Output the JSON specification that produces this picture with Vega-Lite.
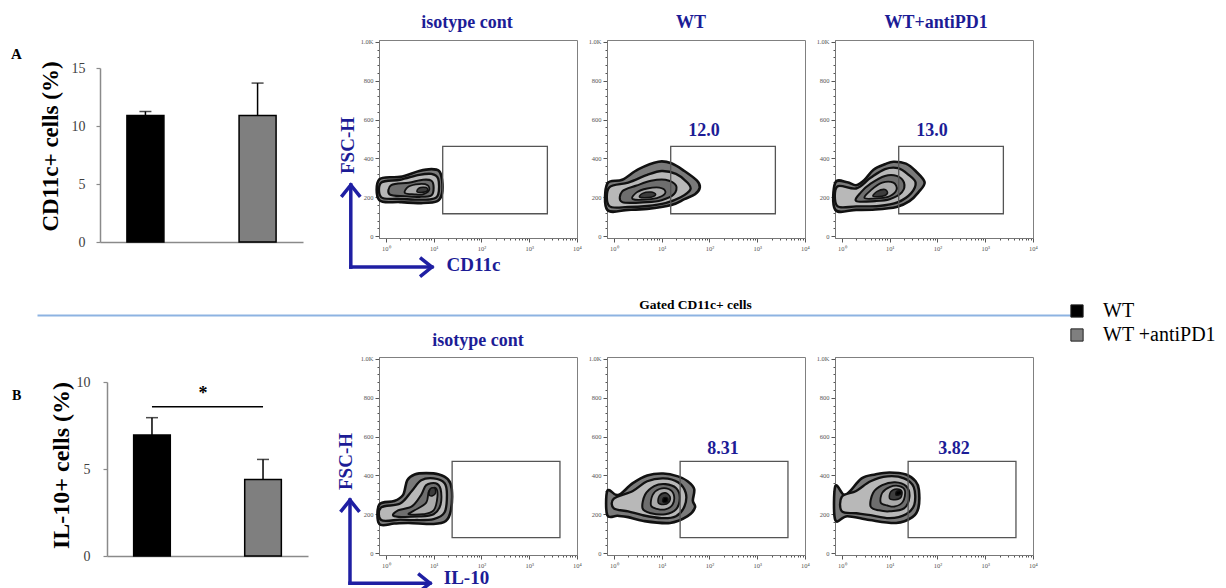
{
"$schema":"https://vega.github.io/schema/vega-lite/v6.json",
"background":"white",
"padding":{"left":11,"top":13,"right":5,"bottom":0},
"config":{"font":"Liberation Serif","view":{"stroke":null},"axis":{"grid":false},"title":{"offset":0}},
"datasets":{
"bars":[{"pan":"A","g":"WT","v":10.9,"hi":11.25},{"pan":"A","g":"WT +antiPD1","v":10.9,"hi":13.7},{"pan":"B","g":"WT","v":6.95,"hi":7.95},{"pan":"B","g":"WT +antiPD1","v":4.4,"hi":5.55}],
"sig":[{"a":"WT","b":"WT +antiPD1","y":8.58,"ty":9.05,"t":"*"}],
"gate":[{"p":"A","x":15.5,"x2":2400,"y":115,"y2":462},{"p":"B","x":24.4,"x2":4400,"y":80,"y2":472}],
"lbl":[{"p":"A2","x":77,"y":540,"t":"12.0"},{"p":"A3","x":77,"y":540,"t":"13.0"},{"p":"B2","x":192,"y":535,"t":"8.31"},{"p":"B3","x":222,"y":535,"t":"3.82"}],
"arr":[{"p":"A1","x":0.185,"y":-160,"x2":0.185,"y2":263,"tip":"up"},{"p":"A1","x":0.185,"y":-160,"x2":9.2,"y2":-160,"tip":"right"},{"p":"B1","x":0.178,"y":-155,"x2":0.178,"y2":273,"tip":"up"},{"p":"B1","x":0.178,"y":-155,"x2":8.4,"y2":-155,"tip":"right"}],
"cont":[
{"p":"A1","l":0,"x":0.73,"y":185},{"p":"A1","l":0,"x":0.73,"y":292},{"p":"A1","l":0,"x":2,"y":305},{"p":"A1","l":0,"x":5,"y":335},{"p":"A1","l":0,"x":9,"y":345},{"p":"A1","l":0,"x":13,"y":335},{"p":"A1","l":0,"x":15,"y":290},{"p":"A1","l":0,"x":15,"y":220},{"p":"A1","l":0,"x":12,"y":180},{"p":"A1","l":0,"x":6,"y":170},{"p":"A1","l":0,"x":2,"y":175},
{"p":"A1","l":1,"x":0.8,"y":200},{"p":"A1","l":1,"x":0.8,"y":275},{"p":"A1","l":1,"x":2,"y":290},{"p":"A1","l":1,"x":5,"y":315},{"p":"A1","l":1,"x":9,"y":320},{"p":"A1","l":1,"x":12.5,"y":295},{"p":"A1","l":1,"x":12.5,"y":215},{"p":"A1","l":1,"x":9,"y":190},{"p":"A1","l":1,"x":4,"y":188},{"p":"A1","l":1,"x":1.8,"y":192},
{"p":"A1","l":2,"x":1.2,"y":215},{"p":"A1","l":2,"x":1.3,"y":262},{"p":"A1","l":2,"x":3,"y":275},{"p":"A1","l":2,"x":6,"y":290},{"p":"A1","l":2,"x":9,"y":285},{"p":"A1","l":2,"x":10,"y":250},{"p":"A1","l":2,"x":9,"y":210},{"p":"A1","l":2,"x":5,"y":202},{"p":"A1","l":2,"x":2.5,"y":205},
{"p":"A1","l":3,"x":2.5,"y":222},{"p":"A1","l":3,"x":3,"y":255},{"p":"A1","l":3,"x":5,"y":268},{"p":"A1","l":3,"x":7.5,"y":262},{"p":"A1","l":3,"x":8,"y":235},{"p":"A1","l":3,"x":6,"y":215},{"p":"A1","l":3,"x":4,"y":215},
{"p":"A1","l":4,"x":4.5,"y":228},{"p":"A1","l":4,"x":5,"y":248},{"p":"A1","l":4,"x":7,"y":250},{"p":"A1","l":4,"x":7.5,"y":235},{"p":"A1","l":4,"x":6,"y":225},
{"p":"A2","l":0,"x":0.73,"y":135},{"p":"A2","l":0,"x":0.73,"y":270},{"p":"A2","l":0,"x":1.5,"y":290},{"p":"A2","l":0,"x":3.3,"y":345},{"p":"A2","l":0,"x":8.6,"y":383},{"p":"A2","l":0,"x":16,"y":375},{"p":"A2","l":0,"x":30,"y":335},{"p":"A2","l":0,"x":55,"y":285},{"p":"A2","l":0,"x":63,"y":250},{"p":"A2","l":0,"x":50,"y":215},{"p":"A2","l":0,"x":30,"y":190},{"p":"A2","l":0,"x":16,"y":160},{"p":"A2","l":0,"x":5,"y":140},{"p":"A2","l":0,"x":2,"y":135},
{"p":"A2","l":1,"x":0.8,"y":155},{"p":"A2","l":1,"x":0.8,"y":250},{"p":"A2","l":1,"x":2,"y":275},{"p":"A2","l":1,"x":5,"y":315},{"p":"A2","l":1,"x":10,"y":335},{"p":"A2","l":1,"x":20,"y":320},{"p":"A2","l":1,"x":35,"y":275},{"p":"A2","l":1,"x":40,"y":240},{"p":"A2","l":1,"x":25,"y":200},{"p":"A2","l":1,"x":12,"y":170},{"p":"A2","l":1,"x":5,"y":155},{"p":"A2","l":1,"x":2,"y":150},
{"p":"A2","l":2,"x":1.5,"y":175},{"p":"A2","l":2,"x":1.5,"y":230},{"p":"A2","l":2,"x":3,"y":260},{"p":"A2","l":2,"x":6,"y":285},{"p":"A2","l":2,"x":12,"y":290},{"p":"A2","l":2,"x":20,"y":260},{"p":"A2","l":2,"x":18,"y":215},{"p":"A2","l":2,"x":10,"y":185},{"p":"A2","l":2,"x":5,"y":175},
{"p":"A2","l":3,"x":2.5,"y":190},{"p":"A2","l":3,"x":3,"y":225},{"p":"A2","l":3,"x":5,"y":245},{"p":"A2","l":3,"x":9,"y":250},{"p":"A2","l":3,"x":12,"y":230},{"p":"A2","l":3,"x":10,"y":205},{"p":"A2","l":3,"x":6,"y":190},
{"p":"A2","l":4,"x":3.5,"y":200},{"p":"A2","l":4,"x":4,"y":220},{"p":"A2","l":4,"x":6,"y":227},{"p":"A2","l":4,"x":7.5,"y":215},{"p":"A2","l":4,"x":6,"y":200},
{"p":"A3","l":0,"x":0.73,"y":135},{"p":"A3","l":0,"x":0.73,"y":275},{"p":"A3","l":0,"x":1.3,"y":277},{"p":"A3","l":0,"x":2,"y":262},{"p":"A3","l":0,"x":3,"y":290},{"p":"A3","l":0,"x":4.6,"y":342},{"p":"A3","l":0,"x":8,"y":370},{"p":"A3","l":0,"x":12,"y":383},{"p":"A3","l":0,"x":22,"y":373},{"p":"A3","l":0,"x":35,"y":335},{"p":"A3","l":0,"x":54,"y":277},{"p":"A3","l":0,"x":40,"y":225},{"p":"A3","l":0,"x":26,"y":180},{"p":"A3","l":0,"x":14,"y":150},{"p":"A3","l":0,"x":5,"y":137},{"p":"A3","l":0,"x":2,"y":135},
{"p":"A3","l":1,"x":0.8,"y":155},{"p":"A3","l":1,"x":0.8,"y":255},{"p":"A3","l":1,"x":2,"y":245},{"p":"A3","l":1,"x":4,"y":300},{"p":"A3","l":1,"x":8,"y":345},{"p":"A3","l":1,"x":15,"y":350},{"p":"A3","l":1,"x":25,"y":315},{"p":"A3","l":1,"x":35,"y":275},{"p":"A3","l":1,"x":28,"y":220},{"p":"A3","l":1,"x":15,"y":175},{"p":"A3","l":1,"x":6,"y":155},{"p":"A3","l":1,"x":2,"y":153},
{"p":"A3","l":2,"x":2,"y":180},{"p":"A3","l":2,"x":2.5,"y":225},{"p":"A3","l":2,"x":4,"y":270},{"p":"A3","l":2,"x":8,"y":310},{"p":"A3","l":2,"x":14,"y":310},{"p":"A3","l":2,"x":20,"y":275},{"p":"A3","l":2,"x":18,"y":225},{"p":"A3","l":2,"x":10,"y":190},{"p":"A3","l":2,"x":5,"y":180},
{"p":"A3","l":3,"x":3,"y":195},{"p":"A3","l":3,"x":4,"y":235},{"p":"A3","l":3,"x":7,"y":275},{"p":"A3","l":3,"x":12,"y":275},{"p":"A3","l":3,"x":14,"y":240},{"p":"A3","l":3,"x":10,"y":205},{"p":"A3","l":3,"x":6,"y":195},
{"p":"A3","l":4,"x":4.5,"y":205},{"p":"A3","l":4,"x":5.5,"y":230},{"p":"A3","l":4,"x":8,"y":240},{"p":"A3","l":4,"x":9,"y":220},{"p":"A3","l":4,"x":7,"y":205},
{"p":"B1","l":0,"x":0.73,"y":150},{"p":"B1","l":0,"x":0.73,"y":250},{"p":"B1","l":0,"x":1.5,"y":268},{"p":"B1","l":0,"x":2.3,"y":300},{"p":"B1","l":0,"x":2.8,"y":375},{"p":"B1","l":0,"x":4,"y":405},{"p":"B1","l":0,"x":7,"y":412},{"p":"B1","l":0,"x":13,"y":405},{"p":"B1","l":0,"x":20,"y":380},{"p":"B1","l":0,"x":24,"y":330},{"p":"B1","l":0,"x":23,"y":220},{"p":"B1","l":0,"x":18,"y":165},{"p":"B1","l":0,"x":10,"y":150},{"p":"B1","l":0,"x":3,"y":155},{"p":"B1","l":0,"x":1.5,"y":152},
{"p":"B1","l":1,"x":0.8,"y":170},{"p":"B1","l":1,"x":0.8,"y":235},{"p":"B1","l":1,"x":2,"y":255},{"p":"B1","l":1,"x":3.5,"y":320},{"p":"B1","l":1,"x":5.5,"y":375},{"p":"B1","l":1,"x":10,"y":385},{"p":"B1","l":1,"x":17,"y":360},{"p":"B1","l":1,"x":19,"y":300},{"p":"B1","l":1,"x":17,"y":210},{"p":"B1","l":1,"x":10,"y":175},{"p":"B1","l":1,"x":4,"y":170},{"p":"B1","l":1,"x":2,"y":172},
{"p":"B1","l":2,"x":1.5,"y":190},{"p":"B1","l":2,"x":1.8,"y":220},{"p":"B1","l":2,"x":3.5,"y":240},{"p":"B1","l":2,"x":5.5,"y":300},{"p":"B1","l":2,"x":7,"y":350},{"p":"B1","l":2,"x":11,"y":360},{"p":"B1","l":2,"x":14,"y":330},{"p":"B1","l":2,"x":14,"y":250},{"p":"B1","l":2,"x":10,"y":200},{"p":"B1","l":2,"x":5,"y":188},
{"p":"B1","l":3,"x":3,"y":200},{"p":"B1","l":3,"x":4,"y":220},{"p":"B1","l":3,"x":7,"y":260},{"p":"B1","l":3,"x":8,"y":320},{"p":"B1","l":3,"x":11,"y":335},{"p":"B1","l":3,"x":12,"y":290},{"p":"B1","l":3,"x":10,"y":220},{"p":"B1","l":3,"x":6,"y":200},
{"p":"B1","l":4,"x":8,"y":300},{"p":"B1","l":4,"x":8.5,"y":330},{"p":"B1","l":4,"x":10.5,"y":335},{"p":"B1","l":4,"x":11,"y":310},{"p":"B1","l":4,"x":9.5,"y":295},
{"p":"B2","l":0,"x":0.73,"y":195},{"p":"B2","l":0,"x":0.73,"y":320},{"p":"B2","l":0,"x":1.1,"y":300},{"p":"B2","l":0,"x":1.4,"y":305},{"p":"B2","l":0,"x":2.5,"y":360},{"p":"B2","l":0,"x":5,"y":400},{"p":"B2","l":0,"x":10.8,"y":410},{"p":"B2","l":0,"x":22,"y":395},{"p":"B2","l":0,"x":35,"y":370},{"p":"B2","l":0,"x":48,"y":330},{"p":"B2","l":0,"x":45,"y":270},{"p":"B2","l":0,"x":50,"y":235},{"p":"B2","l":0,"x":35,"y":190},{"p":"B2","l":0,"x":15,"y":155},{"p":"B2","l":0,"x":4.2,"y":165},{"p":"B2","l":0,"x":2,"y":185},{"p":"B2","l":0,"x":1.2,"y":192},
{"p":"B2","l":1,"x":1,"y":230},{"p":"B2","l":1,"x":1,"y":280},{"p":"B2","l":1,"x":2.5,"y":320},{"p":"B2","l":1,"x":5,"y":370},{"p":"B2","l":1,"x":11,"y":385},{"p":"B2","l":1,"x":22,"y":365},{"p":"B2","l":1,"x":32,"y":310},{"p":"B2","l":1,"x":30,"y":240},{"p":"B2","l":1,"x":20,"y":190},{"p":"B2","l":1,"x":10,"y":180},{"p":"B2","l":1,"x":4,"y":195},{"p":"B2","l":1,"x":2,"y":215},
{"p":"B2","l":2,"x":4,"y":230},{"p":"B2","l":2,"x":4.5,"y":300},{"p":"B2","l":2,"x":7,"y":345},{"p":"B2","l":2,"x":12,"y":355},{"p":"B2","l":2,"x":20,"y":335},{"p":"B2","l":2,"x":24,"y":285},{"p":"B2","l":2,"x":20,"y":225},{"p":"B2","l":2,"x":12,"y":200},{"p":"B2","l":2,"x":6,"y":205},
{"p":"B2","l":3,"x":6,"y":245},{"p":"B2","l":3,"x":6.5,"y":300},{"p":"B2","l":3,"x":9,"y":330},{"p":"B2","l":3,"x":14,"y":330},{"p":"B2","l":3,"x":18,"y":300},{"p":"B2","l":3,"x":17,"y":250},{"p":"B2","l":3,"x":12,"y":225},{"p":"B2","l":3,"x":8,"y":228},
{"p":"B2","l":4,"x":8.5,"y":260},{"p":"B2","l":4,"x":9,"y":295},{"p":"B2","l":4,"x":12,"y":310},{"p":"B2","l":4,"x":15,"y":290},{"p":"B2","l":4,"x":14,"y":260},{"p":"B2","l":4,"x":11,"y":250},
{"p":"B2","l":5,"x":10.5,"y":265},{"p":"B2","l":5,"x":11,"y":285},{"p":"B2","l":5,"x":13,"y":285},{"p":"B2","l":5,"x":13.5,"y":268},{"p":"B2","l":5,"x":12,"y":260},
{"p":"B3","l":0,"x":0.73,"y":170},{"p":"B3","l":0,"x":0.73,"y":345},{"p":"B3","l":0,"x":1.1,"y":300},{"p":"B3","l":0,"x":1.5,"y":320},{"p":"B3","l":0,"x":2.6,"y":385},{"p":"B3","l":0,"x":5,"y":405},{"p":"B3","l":0,"x":9.9,"y":415},{"p":"B3","l":0,"x":22,"y":405},{"p":"B3","l":0,"x":35,"y":370},{"p":"B3","l":0,"x":41,"y":326},{"p":"B3","l":0,"x":40,"y":233},{"p":"B3","l":0,"x":30,"y":185},{"p":"B3","l":0,"x":13.7,"y":155},{"p":"B3","l":0,"x":3.8,"y":170},{"p":"B3","l":0,"x":1.3,"y":190},
{"p":"B3","l":1,"x":1,"y":215},{"p":"B3","l":1,"x":1,"y":290},{"p":"B3","l":1,"x":2,"y":320},{"p":"B3","l":1,"x":4,"y":370},{"p":"B3","l":1,"x":9,"y":395},{"p":"B3","l":1,"x":20,"y":385},{"p":"B3","l":1,"x":32,"y":340},{"p":"B3","l":1,"x":33,"y":250},{"p":"B3","l":1,"x":22,"y":200},{"p":"B3","l":1,"x":10,"y":180},{"p":"B3","l":1,"x":4,"y":195},{"p":"B3","l":1,"x":2,"y":205},
{"p":"B3","l":2,"x":4,"y":240},{"p":"B3","l":2,"x":4.5,"y":310},{"p":"B3","l":2,"x":7,"y":350},{"p":"B3","l":2,"x":13,"y":365},{"p":"B3","l":2,"x":22,"y":345},{"p":"B3","l":2,"x":26,"y":290},{"p":"B3","l":2,"x":20,"y":230},{"p":"B3","l":2,"x":10,"y":215},{"p":"B3","l":2,"x":6,"y":220},
{"p":"B3","l":3,"x":6.5,"y":260},{"p":"B3","l":3,"x":7,"y":310},{"p":"B3","l":3,"x":10,"y":340},{"p":"B3","l":3,"x":16,"y":345},{"p":"B3","l":3,"x":21,"y":320},{"p":"B3","l":3,"x":19,"y":265},{"p":"B3","l":3,"x":13,"y":240},{"p":"B3","l":3,"x":9,"y":245},
{"p":"B3","l":4,"x":10,"y":280},{"p":"B3","l":4,"x":10.5,"y":315},{"p":"B3","l":4,"x":14,"y":330},{"p":"B3","l":4,"x":18,"y":318},{"p":"B3","l":4,"x":17,"y":285},{"p":"B3","l":4,"x":13,"y":275},
{"p":"B3","l":5,"x":13.5,"y":300},{"p":"B3","l":5,"x":14,"y":318},{"p":"B3","l":5,"x":17,"y":320},{"p":"B3","l":5,"x":17.5,"y":305},{"p":"B3","l":5,"x":15.5,"y":298}
]},
"columns":4,
"spacing":{"row":0,"column":30},
"bounds":"flush",
"concat":[
{"width":249,"height":202,
 "title":{"text":"A","anchor":"start","frame":"group","dx":-89,"dy":34,"offset":0,"baseline":"alphabetic","fontSize":15,"fontWeight":"bold","color":"#000"},
 "data":{"name":"bars"},"transform":[{"filter":"datum.pan=='A'"}],
 "encoding":{"x":{"field":"g","type":"nominal","scale":{"type":"band","range":[0,203],"paddingInner":0.67,"paddingOuter":0.24},"axis":{"title":null,"labels":false,"ticks":false,"domainColor":"#8a8a8a","domainWidth":1.5}}},
 "layer":[
  {"mark":{"type":"bar","stroke":"#000","strokeWidth":1.5},"encoding":{
    "y":{"field":"v","type":"quantitative","scale":{"domain":[0,15],"nice":false,"range":[202,28]},"axis":{"values":[0,5,10,15],"tickCount":10,"title":"CD11c+ cells (%)","titleFontSize":23,"titleFontWeight":"bold","titleColor":"#000","titleX":-50,"titleY":106,"titleBaseline":"middle","titleAlign":"center","titleAngle":-90,"labelFontSize":14,"labelColor":"#404040","labelPadding":11,"tickSize":4,"tickColor":"#8a8a8a","tickWidth":1.2,"domainColor":"#8a8a8a","domainWidth":1.5}},
    "color":{"field":"g","type":"nominal","scale":{"domain":["WT","WT +antiPD1"],"range":["#000000","#7f7f7f"]},"legend":{"orient":"none","legendX":967,"legendY":261,"title":null,"symbolType":"square","symbolSize":150,"symbolStrokeColor":"#222","symbolStrokeWidth":1,"labelFontSize":20,"labelColor":"#000","labelOffset":16,"rowPadding":4}}}},
  {"mark":{"type":"rule","color":"#000","strokeWidth":1.5},"encoding":{"y":{"field":"v","type":"quantitative"},"y2":{"field":"hi"}}},
  {"mark":{"type":"tick","orient":"horizontal","color":"#000","thickness":1.5,"size":12},"encoding":{"y":{"field":"hi","type":"quantitative"}}}
 ]},
{"width":198,"height":198,"view":{"stroke":"#808080","strokeWidth":1},
 "title":{"text":"isotype cont","frame":"group","fontSize":18,"fontWeight":"bold","color":"#1c1c96","offset":-7,"baseline":"alphabetic","dx":-11},
 "layer":[
  {"data":{"name":"cont"},"transform":[{"filter":"datum.p=='A1'"}],"mark":{"type":"line","interpolate":"cardinal-closed","stroke":"#111"},
   "encoding":{
    "x":{"field":"x","type":"quantitative","scale":{"type":"log","domain":[0.72,10000],"nice":false},"axis":{"values":[1,2,3,4,5,6,7,8,9,10,20,30,40,50,60,70,80,90,100,200,300,400,500,600,700,800,900,1000,2000,3000,4000,5000,6000,7000,8000,9000,10000],"tickCount":60,"labelExpr":"datum.value==1?'10⁰':datum.value==10?'10¹':datum.value==100?'10²':datum.value==1000?'10³':datum.value==10000?'10⁴':''","labelFontSize":6.5,"labelColor":"#555","labelOverlap":false,"labelBound":false,"labelFlush":false,"labelPadding":3,"tickSize":{"condition":{"test":"indexof([1,10,100,1000,10000],datum.value)>=0","value":4},"value":2},"tickColor":"#555","domainColor":"#777","title":"CD11c","titleFontSize":19,"titleFontWeight":"bold","titleColor":"#1c1c96","titleX":94,"titleY":26,"titleBaseline":"middle","titleAlign":"center"}},
    "y":{"field":"y","type":"quantitative","scale":{"domain":[-10,1010],"nice":false,"zero":false},"axis":{"values":[0,40,80,120,160,200,240,280,320,360,400,440,480,520,560,600,640,680,720,760,800,840,880,920,960,1000],"tickCount":60,"labelExpr":"datum.value==1000?'1.0K':(indexof([0,200,400,600,800],datum.value)>=0?(''+datum.value):'')","labelFontSize":6.5,"labelColor":"#555","labelOverlap":false,"labelBound":false,"labelFlush":false,"labelPadding":2,"tickSize":{"condition":{"test":"indexof([0,200,400,600,800,1000],datum.value)>=0","value":4},"value":2},"tickColor":"#555","domainColor":"#777","title":"FSC-H","titleFontSize":19,"titleFontWeight":"bold","titleColor":"#1c1c96","titleX":-32,"titleY":105,"titleBaseline":"middle","titleAlign":"center","titleAngle":-90}},
    "fill":{"field":"l","type":"ordinal","scale":{"domain":[0,1,2,3,4,5],"range":["#7a7a7a","#b8b8b8","#6e6e6e","#ababab","#3d3d3d","#000000"]},"legend":null},
    "strokeWidth":{"field":"l","type":"ordinal","scale":{"domain":[0,1,2,3,4,5],"range":[2.6,1.3,1.3,1.3,1.3,1]},"legend":null},
    "order":{"value":null}}},
  {"data":{"name":"gate"},"transform":[{"filter":"datum.p=='A'"}],"mark":{"type":"rect","filled":false,"stroke":"#555","strokeWidth":1.3},
   "encoding":{"x":{"field":"x","type":"quantitative"},"x2":{"field":"x2"},"y":{"field":"y","type":"quantitative"},"y2":{"field":"y2"}}},
  {"data":{"name":"arr"},"transform":[{"filter":"datum.p=='A1'"}],"mark":{"type":"rule","color":"#1f1fa3","strokeWidth":3.5,"strokeCap":"square"},
   "encoding":{"x":{"field":"x","type":"quantitative"},"y":{"field":"y","type":"quantitative"},"x2":{"field":"x2"},"y2":{"field":"y2"}}},
  {"data":{"name":"arr"},"transform":[{"filter":"datum.p=='A1'"}],"mark":{"type":"point","filled":false,"color":"#1f1fa3","strokeWidth":3.5,"size":361,"opacity":1,"strokeJoin":"miter"},
   "encoding":{"x":{"field":"x2","type":"quantitative"},"y":{"field":"y2","type":"quantitative"},"shape":{"field":"tip","type":"nominal","scale":{"domain":["up","right"],"range":["M-1,1.25L0,0L1,1.25","M-1.25,-1L0,0L-1.25,1"]},"legend":null}}}
 ]},
{"width":198,"height":198,"view":{"stroke":"#808080","strokeWidth":1},
 "title":{"text":"WT","frame":"group","fontSize":18,"fontWeight":"bold","color":"#1c1c96","offset":-7,"baseline":"alphabetic","dx":-15},
 "layer":[
  {"data":{"name":"cont"},"transform":[{"filter":"datum.p=='A2'"}],"mark":{"type":"line","interpolate":"cardinal-closed","stroke":"#111"},
   "encoding":{
    "x":{"field":"x","type":"quantitative","scale":{"type":"log","domain":[0.72,10000],"nice":false},"axis":{"values":[1,2,3,4,5,6,7,8,9,10,20,30,40,50,60,70,80,90,100,200,300,400,500,600,700,800,900,1000,2000,3000,4000,5000,6000,7000,8000,9000,10000],"tickCount":60,"labelExpr":"datum.value==1?'10⁰':datum.value==10?'10¹':datum.value==100?'10²':datum.value==1000?'10³':datum.value==10000?'10⁴':''","labelFontSize":6.5,"labelColor":"#555","labelOverlap":false,"labelBound":false,"labelFlush":false,"labelPadding":3,"tickSize":{"condition":{"test":"indexof([1,10,100,1000,10000],datum.value)>=0","value":4},"value":2},"tickColor":"#555","domainColor":"#777","title":null}},
    "y":{"field":"y","type":"quantitative","scale":{"domain":[-10,1010],"nice":false,"zero":false},"axis":{"values":[0,40,80,120,160,200,240,280,320,360,400,440,480,520,560,600,640,680,720,760,800,840,880,920,960,1000],"tickCount":60,"labelExpr":"datum.value==1000?'1.0K':(indexof([0,200,400,600,800],datum.value)>=0?(''+datum.value):'')","labelFontSize":6.5,"labelColor":"#555","labelOverlap":false,"labelBound":false,"labelFlush":false,"labelPadding":2,"tickSize":{"condition":{"test":"indexof([0,200,400,600,800,1000],datum.value)>=0","value":4},"value":2},"tickColor":"#555","domainColor":"#777","title":null}},
    "fill":{"field":"l","type":"ordinal","scale":{"domain":[0,1,2,3,4,5],"range":["#7a7a7a","#b8b8b8","#6e6e6e","#ababab","#3d3d3d","#000000"]},"legend":null},
    "strokeWidth":{"field":"l","type":"ordinal","scale":{"domain":[0,1,2,3,4,5],"range":[2.6,1.3,1.3,1.3,1.3,1]},"legend":null},
    "order":{"value":null}}},
  {"data":{"name":"gate"},"transform":[{"filter":"datum.p=='A'"}],"mark":{"type":"rect","filled":false,"stroke":"#555","strokeWidth":1.3},
   "encoding":{"x":{"field":"x","type":"quantitative"},"x2":{"field":"x2"},"y":{"field":"y","type":"quantitative"},"y2":{"field":"y2"}}},
  {"data":{"name":"lbl"},"transform":[{"filter":"datum.p=='A2'"}],"mark":{"type":"text","fontSize":18,"fontWeight":"bold","color":"#1c1c96","baseline":"middle"},
   "encoding":{"x":{"field":"x","type":"quantitative"},"y":{"field":"y","type":"quantitative"},"text":{"field":"t"}}}
 ]},
{"width":198,"height":198,"view":{"stroke":"#808080","strokeWidth":1},
 "title":{"text":"WT+antiPD1","frame":"group","fontSize":18,"fontWeight":"bold","color":"#1c1c96","offset":-7,"baseline":"alphabetic","dx":2},
 "layer":[
  {"data":{"name":"cont"},"transform":[{"filter":"datum.p=='A3'"}],"mark":{"type":"line","interpolate":"cardinal-closed","stroke":"#111"},
   "encoding":{
    "x":{"field":"x","type":"quantitative","scale":{"type":"log","domain":[0.72,10000],"nice":false},"axis":{"values":[1,2,3,4,5,6,7,8,9,10,20,30,40,50,60,70,80,90,100,200,300,400,500,600,700,800,900,1000,2000,3000,4000,5000,6000,7000,8000,9000,10000],"tickCount":60,"labelExpr":"datum.value==1?'10⁰':datum.value==10?'10¹':datum.value==100?'10²':datum.value==1000?'10³':datum.value==10000?'10⁴':''","labelFontSize":6.5,"labelColor":"#555","labelOverlap":false,"labelBound":false,"labelFlush":false,"labelPadding":3,"tickSize":{"condition":{"test":"indexof([1,10,100,1000,10000],datum.value)>=0","value":4},"value":2},"tickColor":"#555","domainColor":"#777","title":null}},
    "y":{"field":"y","type":"quantitative","scale":{"domain":[-10,1010],"nice":false,"zero":false},"axis":{"values":[0,40,80,120,160,200,240,280,320,360,400,440,480,520,560,600,640,680,720,760,800,840,880,920,960,1000],"tickCount":60,"labelExpr":"datum.value==1000?'1.0K':(indexof([0,200,400,600,800],datum.value)>=0?(''+datum.value):'')","labelFontSize":6.5,"labelColor":"#555","labelOverlap":false,"labelBound":false,"labelFlush":false,"labelPadding":2,"tickSize":{"condition":{"test":"indexof([0,200,400,600,800,1000],datum.value)>=0","value":4},"value":2},"tickColor":"#555","domainColor":"#777","title":null}},
    "fill":{"field":"l","type":"ordinal","scale":{"domain":[0,1,2,3,4,5],"range":["#7a7a7a","#b8b8b8","#6e6e6e","#ababab","#3d3d3d","#000000"]},"legend":null},
    "strokeWidth":{"field":"l","type":"ordinal","scale":{"domain":[0,1,2,3,4,5],"range":[2.6,1.3,1.3,1.3,1.3,1]},"legend":null},
    "order":{"value":null}}},
  {"data":{"name":"gate"},"transform":[{"filter":"datum.p=='A'"}],"mark":{"type":"rect","filled":false,"stroke":"#555","strokeWidth":1.3},
   "encoding":{"x":{"field":"x","type":"quantitative"},"x2":{"field":"x2"},"y":{"field":"y","type":"quantitative"},"y2":{"field":"y2"}}},
  {"data":{"name":"lbl"},"transform":[{"filter":"datum.p=='A3'"}],"mark":{"type":"text","fontSize":18,"fontWeight":"bold","color":"#1c1c96","baseline":"middle"},
   "encoding":{"x":{"field":"x","type":"quantitative"},"y":{"field":"y","type":"quantitative"},"text":{"field":"t"}}}
 ]},
{"width":249,"height":115,"data":{"values":[{"v":0},{"v":1}]},"mark":{"type":"point","opacity":0},
 "encoding":{"x":{"field":"v","type":"quantitative","scale":{"domain":[0,1],"range":[-63,975]},"axis":{"orient":"bottom","offset":-42,"domainColor":"#8db3e2","domainWidth":2,"ticks":false,"labels":false,"title":"Gated CD11c+ cells","titleFontSize":13.5,"titleFontWeight":"bold","titleColor":"#000","titleX":595,"titleY":-7,"titleBaseline":"alphabetic","titleAlign":"center"}}}},
{"width":198,"height":115,"data":{"values":[]},"mark":{"type":"point","opacity":0},"encoding":{}},
{"width":198,"height":115,"data":{"values":[]},"mark":{"type":"point","opacity":0},"encoding":{}},
{"width":198,"height":115,"data":{"values":[]},"mark":{"type":"point","opacity":0},"encoding":{}},
{"width":249,"height":199,
 "title":{"text":"B","anchor":"start","frame":"group","dx":-88,"dy":57,"offset":0,"baseline":"alphabetic","fontSize":14,"fontWeight":"bold","color":"#000"},
 "encoding":{"x":{"field":"g","type":"nominal","scale":{"type":"band","range":[7,208],"paddingInner":0.67,"paddingOuter":0.24},"axis":{"title":null,"labels":false,"ticks":false,"domainColor":"#8a8a8a","domainWidth":1.5}}},
 "layer":[
  {"data":{"name":"bars"},"transform":[{"filter":"datum.pan=='B'"}],"mark":{"type":"bar","stroke":"#000","strokeWidth":1.5},"encoding":{
    "y":{"field":"v","type":"quantitative","scale":{"domain":[0,10],"nice":false,"range":[199,25]},"axis":{"values":[0,5,10],"tickCount":10,"offset":-7,"title":"IL-10+ cells (%)","titleFontSize":24,"titleFontWeight":"bold","titleColor":"#000","titleX":-46,"titleY":108,"titleBaseline":"middle","titleAlign":"center","titleAngle":-90,"labelFontSize":14,"labelColor":"#404040","labelPadding":13,"tickSize":4,"tickColor":"#8a8a8a","tickWidth":1.2,"domainColor":"#8a8a8a","domainWidth":1.5}},
    "color":{"field":"g","type":"nominal","scale":{"domain":["WT","WT +antiPD1"],"range":["#000000","#7f7f7f"]},"legend":{"orient":"none","legendX":967,"legendY":261,"title":null,"symbolType":"square","symbolSize":150,"symbolStrokeColor":"#222","symbolStrokeWidth":1,"labelFontSize":20,"labelColor":"#000","labelOffset":16,"rowPadding":4}}}},
  {"data":{"name":"bars"},"transform":[{"filter":"datum.pan=='B'"}],"mark":{"type":"rule","color":"#000","strokeWidth":1.5},"encoding":{"y":{"field":"v","type":"quantitative"},"y2":{"field":"hi"}}},
  {"data":{"name":"bars"},"transform":[{"filter":"datum.pan=='B'"}],"mark":{"type":"tick","orient":"horizontal","color":"#000","thickness":1.5,"size":12},"encoding":{"y":{"field":"hi","type":"quantitative"}}},
  {"data":{"name":"sig"},"mark":{"type":"rule","color":"#000","strokeWidth":1.5},"encoding":{"x":{"field":"a","type":"nominal"},"x2":{"field":"b"},"y":{"field":"y","type":"quantitative"}}},
  {"data":{"name":"sig"},"mark":{"type":"text","fontSize":18,"fontWeight":"bold","color":"#000","dx":51,"baseline":"alphabetic"},"encoding":{"x":{"field":"a","type":"nominal"},"y":{"field":"ty","type":"quantitative"},"text":{"field":"t"}}}
 ]},
{"width":198,"height":198,"view":{"stroke":"#808080","strokeWidth":1},
 "title":{"text":"isotype cont","frame":"group","fontSize":18,"fontWeight":"bold","color":"#1c1c96","offset":-8,"baseline":"alphabetic","dx":0},
 "layer":[
  {"data":{"name":"cont"},"transform":[{"filter":"datum.p=='B1'"}],"mark":{"type":"line","interpolate":"cardinal-closed","stroke":"#111"},
   "encoding":{
    "x":{"field":"x","type":"quantitative","scale":{"type":"log","domain":[0.72,10000],"nice":false},"axis":{"values":[1,2,3,4,5,6,7,8,9,10,20,30,40,50,60,70,80,90,100,200,300,400,500,600,700,800,900,1000,2000,3000,4000,5000,6000,7000,8000,9000,10000],"tickCount":60,"labelExpr":"datum.value==1?'10⁰':datum.value==10?'10¹':datum.value==100?'10²':datum.value==1000?'10³':datum.value==10000?'10⁴':''","labelFontSize":6.5,"labelColor":"#555","labelOverlap":false,"labelBound":false,"labelFlush":false,"labelPadding":3,"tickSize":{"condition":{"test":"indexof([1,10,100,1000,10000],datum.value)>=0","value":4},"value":2},"tickColor":"#555","domainColor":"#777","title":"IL-10","titleFontSize":19,"titleFontWeight":"bold","titleColor":"#1c1c96","titleX":87,"titleY":22,"titleBaseline":"middle","titleAlign":"center"}},
    "y":{"field":"y","type":"quantitative","scale":{"domain":[-10,1010],"nice":false,"zero":false},"axis":{"values":[0,40,80,120,160,200,240,280,320,360,400,440,480,520,560,600,640,680,720,760,800,840,880,920,960,1000],"tickCount":60,"labelExpr":"datum.value==1000?'1.0K':(indexof([0,200,400,600,800],datum.value)>=0?(''+datum.value):'')","labelFontSize":6.5,"labelColor":"#555","labelOverlap":false,"labelBound":false,"labelFlush":false,"labelPadding":2,"tickSize":{"condition":{"test":"indexof([0,200,400,600,800,1000],datum.value)>=0","value":4},"value":2},"tickColor":"#555","domainColor":"#777","title":"FSC-H","titleFontSize":19,"titleFontWeight":"bold","titleColor":"#1c1c96","titleX":-34,"titleY":104,"titleBaseline":"middle","titleAlign":"center","titleAngle":-90}},
    "fill":{"field":"l","type":"ordinal","scale":{"domain":[0,1,2,3,4,5],"range":["#7a7a7a","#b8b8b8","#6e6e6e","#ababab","#3d3d3d","#000000"]},"legend":null},
    "strokeWidth":{"field":"l","type":"ordinal","scale":{"domain":[0,1,2,3,4,5],"range":[2.6,1.3,1.3,1.3,1.3,1]},"legend":null},
    "order":{"value":null}}},
  {"data":{"name":"gate"},"transform":[{"filter":"datum.p=='B'"}],"mark":{"type":"rect","filled":false,"stroke":"#555","strokeWidth":1.3},
   "encoding":{"x":{"field":"x","type":"quantitative"},"x2":{"field":"x2"},"y":{"field":"y","type":"quantitative"},"y2":{"field":"y2"}}},
  {"data":{"name":"arr"},"transform":[{"filter":"datum.p=='B1'"}],"mark":{"type":"rule","color":"#1f1fa3","strokeWidth":3.5,"strokeCap":"square"},
   "encoding":{"x":{"field":"x","type":"quantitative"},"y":{"field":"y","type":"quantitative"},"x2":{"field":"x2"},"y2":{"field":"y2"}}},
  {"data":{"name":"arr"},"transform":[{"filter":"datum.p=='B1'"}],"mark":{"type":"point","filled":false,"color":"#1f1fa3","strokeWidth":3.5,"size":361,"opacity":1,"strokeJoin":"miter"},
   "encoding":{"x":{"field":"x2","type":"quantitative"},"y":{"field":"y2","type":"quantitative"},"shape":{"field":"tip","type":"nominal","scale":{"domain":["up","right"],"range":["M-1,1.25L0,0L1,1.25","M-1.25,-1L0,0L-1.25,1"]},"legend":null}}}
 ]},
{"width":198,"height":198,"view":{"stroke":"#808080","strokeWidth":1},
 "layer":[
  {"data":{"name":"cont"},"transform":[{"filter":"datum.p=='B2'"}],"mark":{"type":"line","interpolate":"cardinal-closed","stroke":"#111"},
   "encoding":{
    "x":{"field":"x","type":"quantitative","scale":{"type":"log","domain":[0.72,10000],"nice":false},"axis":{"values":[1,2,3,4,5,6,7,8,9,10,20,30,40,50,60,70,80,90,100,200,300,400,500,600,700,800,900,1000,2000,3000,4000,5000,6000,7000,8000,9000,10000],"tickCount":60,"labelExpr":"datum.value==1?'10⁰':datum.value==10?'10¹':datum.value==100?'10²':datum.value==1000?'10³':datum.value==10000?'10⁴':''","labelFontSize":6.5,"labelColor":"#555","labelOverlap":false,"labelBound":false,"labelFlush":false,"labelPadding":3,"tickSize":{"condition":{"test":"indexof([1,10,100,1000,10000],datum.value)>=0","value":4},"value":2},"tickColor":"#555","domainColor":"#777","title":null}},
    "y":{"field":"y","type":"quantitative","scale":{"domain":[-10,1010],"nice":false,"zero":false},"axis":{"values":[0,40,80,120,160,200,240,280,320,360,400,440,480,520,560,600,640,680,720,760,800,840,880,920,960,1000],"tickCount":60,"labelExpr":"datum.value==1000?'1.0K':(indexof([0,200,400,600,800],datum.value)>=0?(''+datum.value):'')","labelFontSize":6.5,"labelColor":"#555","labelOverlap":false,"labelBound":false,"labelFlush":false,"labelPadding":2,"tickSize":{"condition":{"test":"indexof([0,200,400,600,800,1000],datum.value)>=0","value":4},"value":2},"tickColor":"#555","domainColor":"#777","title":null}},
    "fill":{"field":"l","type":"ordinal","scale":{"domain":[0,1,2,3,4,5],"range":["#7a7a7a","#b8b8b8","#6e6e6e","#ababab","#3d3d3d","#000000"]},"legend":null},
    "strokeWidth":{"field":"l","type":"ordinal","scale":{"domain":[0,1,2,3,4,5],"range":[2.6,1.3,1.3,1.3,1.3,1]},"legend":null},
    "order":{"value":null}}},
  {"data":{"name":"gate"},"transform":[{"filter":"datum.p=='B'"}],"mark":{"type":"rect","filled":false,"stroke":"#555","strokeWidth":1.3},
   "encoding":{"x":{"field":"x","type":"quantitative"},"x2":{"field":"x2"},"y":{"field":"y","type":"quantitative"},"y2":{"field":"y2"}}},
  {"data":{"name":"lbl"},"transform":[{"filter":"datum.p=='B2'"}],"mark":{"type":"text","fontSize":18,"fontWeight":"bold","color":"#1c1c96","baseline":"middle"},
   "encoding":{"x":{"field":"x","type":"quantitative"},"y":{"field":"y","type":"quantitative"},"text":{"field":"t"}}}
 ]},
{"width":198,"height":198,"view":{"stroke":"#808080","strokeWidth":1},
 "layer":[
  {"data":{"name":"cont"},"transform":[{"filter":"datum.p=='B3'"}],"mark":{"type":"line","interpolate":"cardinal-closed","stroke":"#111"},
   "encoding":{
    "x":{"field":"x","type":"quantitative","scale":{"type":"log","domain":[0.72,10000],"nice":false},"axis":{"values":[1,2,3,4,5,6,7,8,9,10,20,30,40,50,60,70,80,90,100,200,300,400,500,600,700,800,900,1000,2000,3000,4000,5000,6000,7000,8000,9000,10000],"tickCount":60,"labelExpr":"datum.value==1?'10⁰':datum.value==10?'10¹':datum.value==100?'10²':datum.value==1000?'10³':datum.value==10000?'10⁴':''","labelFontSize":6.5,"labelColor":"#555","labelOverlap":false,"labelBound":false,"labelFlush":false,"labelPadding":3,"tickSize":{"condition":{"test":"indexof([1,10,100,1000,10000],datum.value)>=0","value":4},"value":2},"tickColor":"#555","domainColor":"#777","title":null}},
    "y":{"field":"y","type":"quantitative","scale":{"domain":[-10,1010],"nice":false,"zero":false},"axis":{"values":[0,40,80,120,160,200,240,280,320,360,400,440,480,520,560,600,640,680,720,760,800,840,880,920,960,1000],"tickCount":60,"labelExpr":"datum.value==1000?'1.0K':(indexof([0,200,400,600,800],datum.value)>=0?(''+datum.value):'')","labelFontSize":6.5,"labelColor":"#555","labelOverlap":false,"labelBound":false,"labelFlush":false,"labelPadding":2,"tickSize":{"condition":{"test":"indexof([0,200,400,600,800,1000],datum.value)>=0","value":4},"value":2},"tickColor":"#555","domainColor":"#777","title":null}},
    "fill":{"field":"l","type":"ordinal","scale":{"domain":[0,1,2,3,4,5],"range":["#7a7a7a","#b8b8b8","#6e6e6e","#ababab","#3d3d3d","#000000"]},"legend":null},
    "strokeWidth":{"field":"l","type":"ordinal","scale":{"domain":[0,1,2,3,4,5],"range":[2.6,1.3,1.3,1.3,1.3,1]},"legend":null},
    "order":{"value":null}}},
  {"data":{"name":"gate"},"transform":[{"filter":"datum.p=='B'"}],"mark":{"type":"rect","filled":false,"stroke":"#555","strokeWidth":1.3},
   "encoding":{"x":{"field":"x","type":"quantitative"},"x2":{"field":"x2"},"y":{"field":"y","type":"quantitative"},"y2":{"field":"y2"}}},
  {"data":{"name":"lbl"},"transform":[{"filter":"datum.p=='B3'"}],"mark":{"type":"text","fontSize":18,"fontWeight":"bold","color":"#1c1c96","baseline":"middle"},
   "encoding":{"x":{"field":"x","type":"quantitative"},"y":{"field":"y","type":"quantitative"},"text":{"field":"t"}}}
 ]}
]
}
